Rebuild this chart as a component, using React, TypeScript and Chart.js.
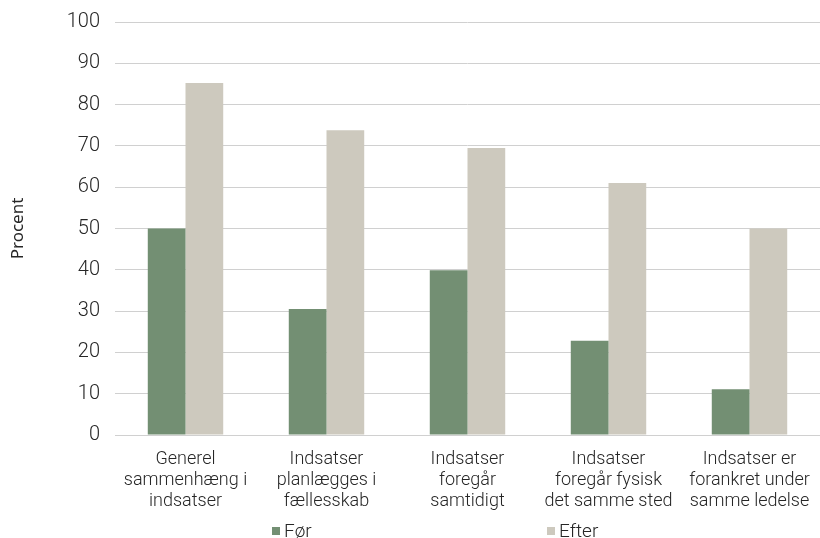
import React, { useEffect, useRef } from "react";
import { Chart, registerables } from "chart.js";

Chart.register(...registerables);

const categories: string[][] = [
  ["Generel", "sammenhæng i", "indsatser"],
  ["Indsatser", "planlægges i", "fællesskab"],
  ["Indsatser", "foregår", "samtidigt"],
  ["Indsatser", "foregår fysisk", "det samme sted"],
  ["Indsatser er", "forankret under", "samme ledelse"],
];
const seriesNames = ["Før", "Efter"];
const forValues = [50, 30.5, 39.9, 22.8, 11.1];
const efterValues = [85.2, 73.8, 69.5, 61, 50];
const yMin = 0;
const yMax = 100;
const yStep = 10;
const yTitle = "Procent";

const FONT = "Roboto, sans-serif";
const TEXT = "#262626";

const customLegend = {
  id: "customLegend",
  afterDraw(chart: any, _args: any, opts: any) {
    const ctx = chart.ctx;
    const xs: number[] = opts.xs;
    ctx.save();
    ctx.font = `300 ${opts.size}px ${FONT}`;
    ctx.textBaseline = "middle";
    ctx.textAlign = "left";
    chart.data.datasets.forEach((ds: any, i: number) => {
      const x = xs[i];
      const y = opts.y;
      ctx.fillStyle = ds.backgroundColor;
      ctx.fillRect(x, y - opts.box / 2, opts.box, opts.box);
      ctx.fillStyle = TEXT;
      ctx.fillText(ds.label, x + opts.box + 4, y + 1);
    });
    ctx.restore();
  },
};

export default function App() {
  const ref = useRef<HTMLCanvasElement | null>(null);
  useEffect(() => {
    if (!ref.current) return;
    const chart = new Chart(ref.current, {
      type: "bar",
      data: {
        labels: categories,
        datasets: [
          { label: seriesNames[0], data: forValues, backgroundColor: "#738f73" },
          { label: seriesNames[1], data: efterValues, backgroundColor: "#cdc9be" },
        ],
      },
      plugins: [customLegend],
      options: {
        animation: false,
        responsive: false,
        layout: { padding: { top: 22, bottom: 25, left: 0, right: 0 } },
        datasets: { bar: { categoryPercentage: 0.535, barPercentage: 1 } },
        plugins: {
          legend: { display: false },
          tooltip: { enabled: false },
          customLegend: { xs: [272, 547], y: 531, box: 8, size: 19 },
        } as any,
        scales: {
          x: {
            grid: { display: false },
            border: { display: true, color: "#d0d0d0", width: 1 },
            ticks: {
              color: TEXT,
              font: { family: FONT, size: 18, weight: "300", lineHeight: 1.17 },
              padding: 6,
              maxRotation: 0,
              autoSkip: false,
            },
            afterFit: (s: any) => {
              s.height = 78;
              s.paddingLeft = 0;
              s.paddingRight = 0;
            },
          },
          y: {
            min: yMin,
            max: yMax,
            grid: { color: "#d0d0d0", drawTicks: false },
            border: { display: false },
            ticks: {
              stepSize: yStep,
              color: TEXT,
              font: { family: FONT, size: 20, weight: "300" },
              padding: 15,
            },
            title: {
              display: true,
              text: yTitle,
              color: TEXT,
              font: { family: "'Noto Sans', sans-serif", size: 17, lineHeight: 1.2 },
              padding: { top: 8, bottom: 0 },
            },
            afterFit: (s: any) => {
              s.width = 115;
              s.paddingTop = 0;
              s.paddingBottom = 0;
            },
          },
        },
      },
    });
    return () => chart.destroy();
  }, []);
  return (
    <div style={{ position: "absolute", left: 0, top: 0, width: 820, height: 538 }}>
      <canvas ref={ref} width={820} height={538} style={{ display: "block" }} />
    </div>
  );
}
